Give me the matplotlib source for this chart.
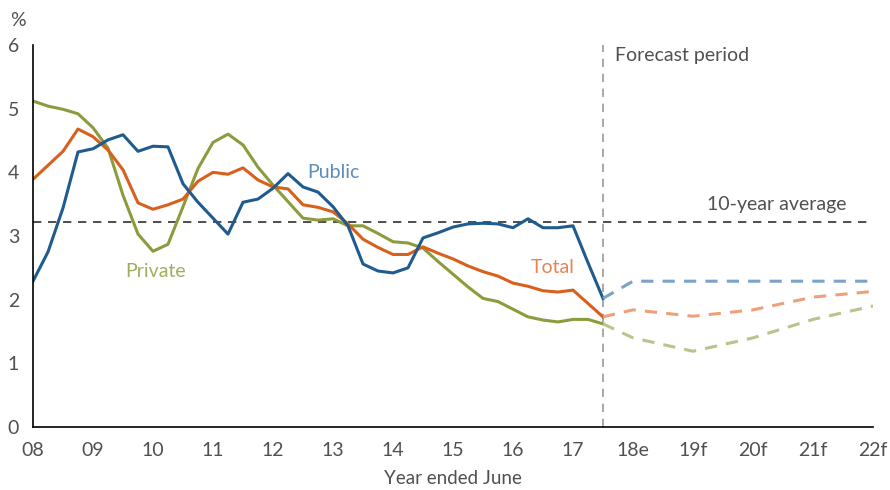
import numpy as np
import matplotlib
matplotlib.use("Agg")
import matplotlib.pyplot as plt

plt.rcParams['font.family'] = ['Lato', 'DejaVu Sans']

# quarterly history, year ended June 2008 .. Dec 2017
quarters = 2008 + 0.25 * np.arange(39)

public = [2.29, 2.75, 3.44, 4.32, 4.37, 4.51, 4.59, 4.33, 4.41, 4.40,
          3.82, 3.53, 3.28, 3.03, 3.53, 3.58, 3.75, 3.98, 3.77, 3.69,
          3.46, 3.16, 2.56, 2.45, 2.42, 2.50, 2.97, 3.05, 3.14, 3.19,
          3.20, 3.19, 3.13, 3.27, 3.13, 3.13, 3.16, 2.58, 2.02]
total = [3.89, 4.11, 4.33, 4.68, 4.56, 4.35, 4.04, 3.52, 3.42, 3.49,
         3.58, 3.86, 4.00, 3.97, 4.07, 3.88, 3.77, 3.74, 3.49, 3.45,
         3.38, 3.19, 2.95, 2.82, 2.71, 2.71, 2.83, 2.73, 2.64, 2.53,
         2.44, 2.37, 2.26, 2.21, 2.14, 2.12, 2.15, 1.94, 1.73]
private = [5.12, 5.04, 4.99, 4.92, 4.70, 4.38, 3.64, 3.03, 2.76, 2.87,
           3.46, 4.06, 4.47, 4.60, 4.43, 4.08, 3.80, 3.54, 3.28, 3.25,
           3.27, 3.16, 3.16, 3.04, 2.91, 2.89, 2.81, 2.60, 2.40, 2.20,
           2.02, 1.97, 1.85, 1.73, 1.68, 1.65, 1.69, 1.69, 1.62]

# forecasts
fc_years = [2017.5, 2018, 2019, 2020, 2021, 2022]
public_fc = [2.02, 2.29, 2.29, 2.29, 2.29, 2.29]
total_fc = [1.73, 1.84, 1.74, 1.84, 2.04, 2.13]
private_fc = [1.62, 1.40, 1.19, 1.40, 1.69, 1.90]

ten_year_avg = 3.22
forecast_start = 2017.5

tick_years = list(range(2008, 2023))
tick_labels = ['08', '09', '10', '11', '12', '13', '14', '15', '16', '17',
               '18e', '19f', '20f', '21f', '22f']

blue, orange, green = '#1f5b8e', '#d95f1c', '#8c9b3c'
blue_l, orange_l, green_l = '#7ba3c8', '#eda07a', '#b8c48a'
txt = '#505050'

fig = plt.figure(figsize=(8.9, 4.9), dpi=100)
ax = fig.add_axes([33 / 890, 63 / 490, 840 / 890, 382 / 490])

ax.axhline(ten_year_avg, color='#303030', lw=1.2, ls=(0, (5, 4)))
ax.axvline(forecast_start, color='#999999', lw=1.2, ls=(0, (5, 4)))

ax.plot(quarters, private, color=green, lw=2.2)
ax.plot(quarters, total, color=orange, lw=2.2)
ax.plot(quarters, public, color=blue, lw=2.2)
ax.plot(fc_years, private_fc, color=green_l, lw=2.2, ls=(0, (4, 3)))
ax.plot(fc_years, total_fc, color=orange_l, lw=2.2, ls=(0, (4, 3)))
ax.plot(fc_years, public_fc, color=blue_l, lw=2.2, ls=(0, (4, 3)))

ax.set_xlim(2008, 2022)
ax.set_ylim(0, 6)
ax.set_xticks(tick_years)
ax.set_xticklabels(tick_labels)
ax.set_yticks(range(0, 7))
ax.tick_params(length=0, labelsize=14, labelcolor=txt, pad=11)
ax.tick_params(axis='y', pad=10)

for s in ['top', 'right']:
    ax.spines[s].set_visible(False)
ax.spines['left'].set_linewidth(1.2)
ax.spines['bottom'].set_linewidth(1.2)

ax.set_xlabel('Year ended June', fontsize=13.5, color=txt, labelpad=8)
fig.text(18 / 890, 1 - 20 / 490, '%', fontsize=14, color=txt,
         ha='center', va='center')

ax.text(2017.7, 5.83, 'Forecast period', fontsize=14, color=txt, va='center')
ax.text(2020.4, 3.5, '10-year average', fontsize=14, color=txt,
        ha='center', va='center')
ax.text(2012.57, 4.0, 'Public', fontsize=14, color='#5b8cba', va='center')
ax.text(2016.3, 2.5, 'Total', fontsize=14, color='#e8834f', va='center')
ax.text(2009.53, 2.45, 'Private', fontsize=14, color='#a0ad5c', va='center')

fig.savefig('out.png', dpi=100)
